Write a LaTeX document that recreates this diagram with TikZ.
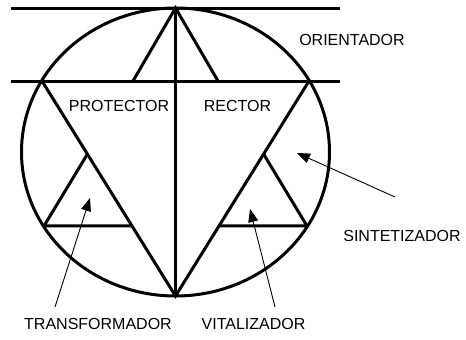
\documentclass[tikz,border=0pt]{standalone}
\usepackage{fontspec}
\setmainfont{Liberation Sans}
\usetikzlibrary{arrows.meta,calc}

\begin{document}
\begin{tikzpicture}[x=1pt,y=-1pt,
	heavy/.style={line width=3pt},
	pointer/.style={line width=0.9pt,-{Triangle[length=13pt,width=10pt]}},
	tag/.style={font=\fontsize{16}{19}\selectfont,inner sep=0pt}]
\useasboundingbox (0,0) rectangle (466,340);
	\coordinate (t) at (175.5,8);
	\coordinate (b) at (175.5,296);
	\coordinate (l) at (42,81);
	\coordinate (r) at (309,81);
	\coordinate (tl) at (133,81);
	\coordinate (tr) at (218,81);
	\coordinate (la) at ($(l)!0.34!(b)$);
	\coordinate (lb) at ($(l)!0.674!(b)$);
	\coordinate (ra) at ($(r)!0.34!(b)$);
	\coordinate (rb) at ($(r)!0.674!(b)$);
	\coordinate (lc) at (44,226);
	\coordinate (rc) at (307,226);
	% circle and guide lines
	\draw[heavy] (175.5,152) ellipse [x radius=154, y radius=144];
	\draw[heavy] (11,8) -- (340,8);
	\draw[heavy] (11,81) -- (340,81);
	\draw[heavy] (t) -- (b);
	\draw[heavy] (tl) -- (t) -- (tr);
	\draw[heavy] (l) -- (b) -- (r);
	\draw[heavy] (lc) -- (la);
	\draw[heavy] (lc) -- (lb);
	\draw[heavy] (rc) -- (ra);
	\draw[heavy] (rc) -- (rb);
	% labels
	\node[tag] (orient) at (352,40) {ORIENTADOR};
	\node[tag] (prot) at (119,105.5) {PROTECTOR};
	\node[tag] (rect) at (237.5,105.5) {RECTOR};
	\node[tag] (sint) at (402,236) {SINTETIZADOR};
	\node[tag] (trans) at (98,324) {TRANSFORMADOR};
	\node[tag] (vital) at (253.5,324) {VITALIZADOR};
	% pointers
	\coordinate (s0) at (395,197);
	\coordinate (s1) at (297,153);
	\coordinate (t0) at (55,307);
	\coordinate (t1) at (90,198);
	\coordinate (v0) at (275,307);
	\coordinate (v1) at (250,209);
	\draw[pointer] (s0) -- (s1);
	\draw[pointer] (t0) -- (t1);
	\draw[pointer] (v0) -- (v1);
\end{tikzpicture}
\end{document}
